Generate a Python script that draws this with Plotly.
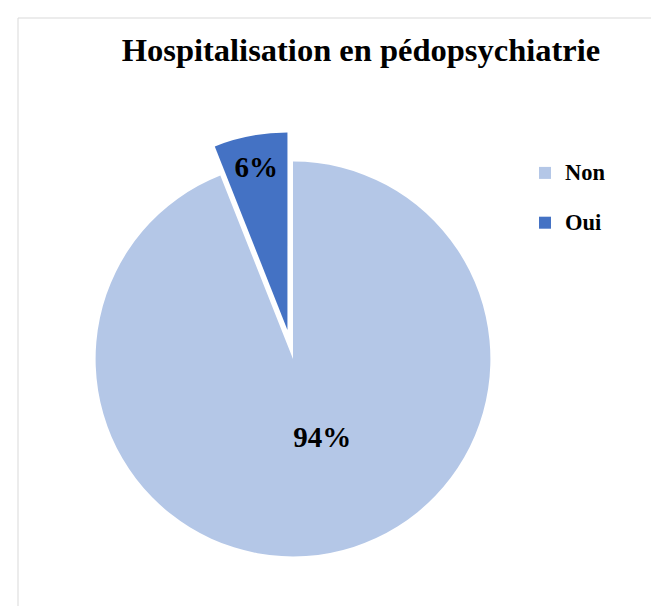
import plotly.graph_objects as go

labels = ["Non", "Oui"]
values = [94, 6]
colors = ["#B4C7E7", "#4472C4"]
pulls = [0, 0.15]
title_text = "Hospitalisation en pédopsychiatrie"

W, H = 659, 606
SERIF = "Liberation Serif, Times New Roman, serif"

legend_names = ['<span style="font-size:22.5px;baseline-shift:7px">%s</span>' % l for l in labels]
# label templates: padding nudges the big-slice label toward the reference spot
text_templates = ["&nbsp;&nbsp;&nbsp;%{percent:.0%}<br> ", "%{percent:.0%}"]

fig = go.Figure(go.Pie(
    labels=legend_names,
    values=values,
    customdata=labels,
    marker=dict(colors=colors, line=dict(width=0)),
    pull=pulls,
    sort=False,
    direction="clockwise",
    rotation=0,
    texttemplate=text_templates,
    textposition="inside",
    insidetextorientation="horizontal",
    textfont=dict(family=SERIF, size=29, color="black", weight="bold"),
    hovertemplate="%{customdata}: %{percent:.0%}<extra></extra>",
    domain=dict(x=[58 / W, 512 / W], y=[28 / H, 482 / H]),
))

fig.update_layout(
    width=W, height=H,
    paper_bgcolor="white",
    plot_bgcolor="white",
    margin=dict(l=0, r=0, t=0, b=0),
    title=dict(text=title_text, x=353 / W, xanchor="center", y=1 - 42 / H, yanchor="middle",
               font=dict(family=SERIF, size=32.5, color="black", weight="bold")),
    uniformtext=dict(minsize=29, mode="show"),
    legend=dict(x=517 / W, y=1 - 135 / H, xanchor="left", yanchor="top",
                font=dict(family=SERIF, size=36, color="black", weight="bold"),
                bgcolor="rgba(0,0,0,0)", traceorder="normal"),
    shapes=[
        dict(type="line", xref="paper", yref="paper", x0=10 / W, x1=1.0, y0=1 - 10 / H, y1=1 - 10 / H,
             line=dict(color="#D9D9D9", width=1)),
        dict(type="line", xref="paper", yref="paper", x0=10 / W, x1=10 / W, y0=0, y1=1 - 10 / H,
             line=dict(color="#D9D9D9", width=1)),
    ],
)

fig.write_html("out.html")
